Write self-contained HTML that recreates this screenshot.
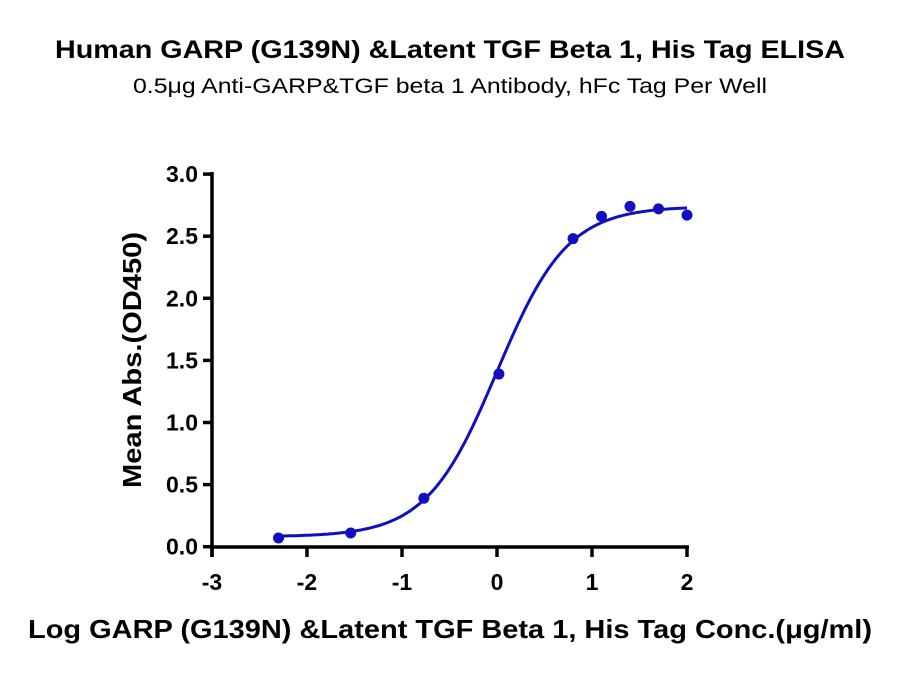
<!DOCTYPE html>
<html><head><style>
body{margin:0;background:#fff;width:900px;height:671px;overflow:hidden}
text{font-family:"Liberation Sans",sans-serif}
</style></head><body>
<svg id="s" width="900" height="671" xmlns="http://www.w3.org/2000/svg">
<text x="450" y="58" text-anchor="middle" font-size="25" font-weight="bold" textLength="790" lengthAdjust="spacingAndGlyphs">Human GARP (G139N) &amp;Latent TGF Beta 1, His Tag ELISA</text>
<text x="450" y="93" text-anchor="middle" font-size="21" textLength="634" lengthAdjust="spacingAndGlyphs">0.5μg Anti-GARP&amp;TGF beta 1 Antibody, hFc Tag Per Well</text>
<text x="450" y="638" text-anchor="middle" font-size="26" font-weight="bold" textLength="844" lengthAdjust="spacingAndGlyphs">Log GARP (G139N) &amp;Latent TGF Beta 1, His Tag Conc.(μg/ml)</text>
<text transform="translate(141,360) rotate(-90)" text-anchor="middle" font-size="26" font-weight="bold" textLength="256" lengthAdjust="spacingAndGlyphs">Mean Abs.(OD450)</text>
<g stroke="#000" stroke-width="3.5" fill="none">
<line x1="212" y1="172" x2="212" y2="557"/>
<line x1="210" y1="547" x2="689" y2="547"/>
</g>
<g id="ax"></g>
<path id="curve" fill="none" stroke="#1010c0" stroke-width="3"/>
<g id="pts" fill="#1010c0"></g>
</svg>
<script>
var X=function(v){return 212+95*(v+3)},Y=function(v){return 546.7-124.2*v};
var ax=document.getElementById('ax'),h='';
for(var i=0;i<=6;i++){var v=i*0.5,y=Y(v);h+='<line x1="203" y1="'+y+'" x2="212" y2="'+y+'" stroke="#000" stroke-width="3.5"/><text x="198" y="'+(y+8)+'" text-anchor="end" font-size="23" font-weight="bold">'+v.toFixed(1)+'</text>';}
for(var k=-3;k<=2;k++){var x=X(k);h+='<line x1="'+x+'" y1="547" x2="'+x+'" y2="557" stroke="#000" stroke-width="3.5"/><text x="'+x+'" y="590" text-anchor="middle" font-size="23" font-weight="bold">'+k+'</text>';}
ax.innerHTML=h;
function f(x){return 0.08+2.66/(1+Math.pow(10,(0.0-x)*1.17));}
var d='';for(var x=-2.3;x<=2.001;x+=0.02){d+=(d?'L':'M')+X(x).toFixed(1)+','+Y(f(x)).toFixed(1);}
document.getElementById('curve').setAttribute('d',d);
var p=[[-2.3,0.07],[-1.54,0.11],[-0.77,0.39],[0.02,1.39],[0.8,2.48],[1.1,2.66],[1.4,2.74],[1.7,2.72],[2.0,2.67]],s='';
p.forEach(function(q){s+='<circle cx="'+X(q[0])+'" cy="'+Y(q[1])+'" r="5.5"/>';});
document.getElementById('pts').innerHTML=s;
</script>
</body></html>
